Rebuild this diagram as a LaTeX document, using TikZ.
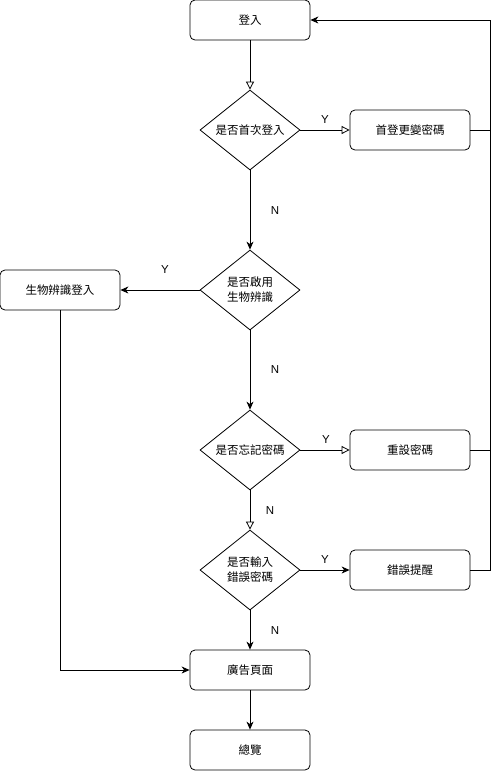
\documentclass[tikz,border=0pt]{standalone}
\usepackage{fontspec}
\setmainfont{Liberation Sans}
\newfontfamily\cjk{Noto Sans CJK TC}
\usetikzlibrary{arrows.meta,shapes.geometric}
\begin{document}
\begin{tikzpicture}[x=1pt,y=-1pt,
  every node/.style={font=\cjk\fontsize{11.5}{14}\selectfont},
  procbox/.style={draw, line width=0.8pt, rounded corners=5pt, minimum width=120pt, minimum height=40pt, inner sep=0pt},
  decide/.style={draw, line width=0.8pt, diamond, minimum width=100pt, minimum height=80pt, aspect=1.25, inner sep=0pt, align=center, font=\cjk\fontsize{11.5}{15}\selectfont},
  lbl/.style={font=\fontsize{11.5}{14}\selectfont},
  link/.style={line width=0.8pt, -{Stealth[length=8pt,width=7pt,inset=2.5pt]}},
  openlink/.style={line width=0.8pt, -{Triangle[open,length=8pt,width=8pt]}},
  plain/.style={line width=0.8pt}]
\useasboundingbox (0,0) rectangle (500,772);
\node[procbox] (login) at (250,20) {登入};
\node[decide] (d1) at (250,130) {是否首次登入};
\node[procbox] (first) at (410,130) {首登更變密碼};
\node[decide] (d2) at (250,290) {是否啟用\\生物辨識};
\node[procbox] (bio) at (60,290) {生物辨識登入};
\node[decide] (d3) at (250,450) {是否忘記密碼};
\node[procbox] (reset) at (410,450) {重設密碼};
\node[decide] (d4) at (250,570) {是否輸入\\錯誤密碼};
\node[procbox] (warn) at (410,570) {錯誤提醒};
\node[procbox] (ad) at (250,670) {廣告頁面};
\node[procbox] (over) at (250,750) {總覽};
\coordinate (rt) at (490,20);
\coordinate (r1) at (490,130);
\coordinate (r2) at (490,450);
\coordinate (r3) at (490,570);
\coordinate (bl) at (60,670);

\draw[openlink] (login) -- (d1);
\draw[openlink] (d1) -- (first);
\draw[link] (d1) -- (d2);
\draw[link] (d2) -- (bio);
\draw[link] (d2) -- (d3);
\draw[openlink] (d3) -- (reset);
\draw[openlink] (d3) -- (d4);
\draw[link] (d4) -- (warn);
\draw[link] (d4) -- (ad);
\draw[link] (ad) -- (over);
\draw[link] (bio) -- (bl) -- (ad);
\draw[plain] (first) -- (r1);
\draw[plain] (reset) -- (r2);
\draw[link] (warn) -- (r3) -- (rt) -- (login);

\node[lbl] (y1) at (325,120) {Y};
\node[lbl] (n1) at (275,211) {N};
\node[lbl] (y2) at (165,270) {Y};
\node[lbl] (n2) at (275,370) {N};
\node[lbl] (y3) at (326,440) {Y};
\node[lbl] (n3) at (270,511) {N};
\node[lbl] (y4) at (325,560) {Y};
\node[lbl] (n4) at (275,631) {N};
\end{tikzpicture}
\end{document}
